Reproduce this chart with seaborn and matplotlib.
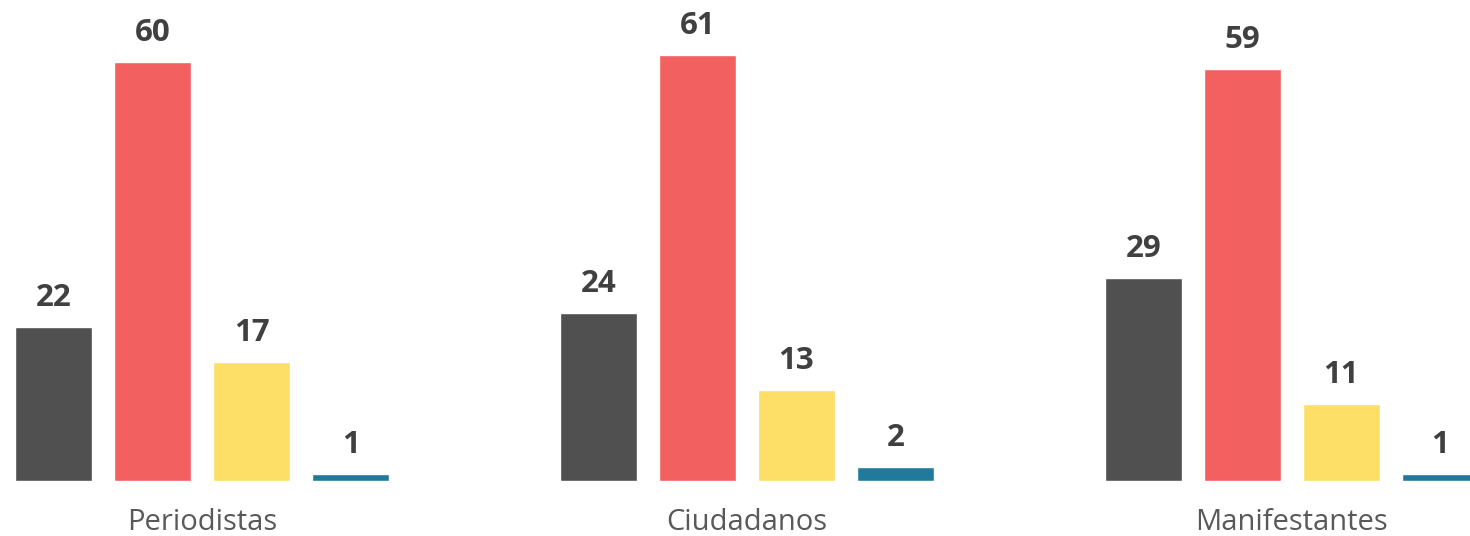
import matplotlib
matplotlib.use("Agg")
import matplotlib.pyplot as plt
import seaborn as sns
import pandas as pd

# Grouped bar values per respondent group
groups = ["Periodistas", "Ciudadanos", "Manifestantes"]
series = ["A", "B", "C", "D"]
values_a = [22, 24, 29]
values_b = [60, 61, 59]
values_c = [17, 13, 11]
values_d = [1, 2, 1]
colors = ["#505050", "#F26060", "#FDDE66", "#217A9A"]

rows = []
for s, vals in zip(series, [values_a, values_b, values_c, values_d]):
    for g, v in zip(groups, vals):
        rows.append({"grupo": g, "serie": s, "valor": v})
df = pd.DataFrame(rows)

sns.set_theme(style="white")
plt.rcParams["font.family"] = ["Open Sans", "DejaVu Sans"]

fig = plt.figure(figsize=(14.7, 5.36), dpi=100)
ax = fig.add_axes([0, 55.3 / 536, 1, 480.7 / 536])

sns.barplot(data=df, x="grupo", y="valor", hue="serie", order=groups,
            hue_order=series, palette=colors, width=0.727, gap=0.22,
            legend=False, ax=ax, saturation=1)

for container in ax.containers:
    ax.bar_label(container, fmt="%d", padding=10, fontsize=22.5,
                 fontweight="bold", color="#404040")

ax.set_xlim(-0.371, 2.327)
ax.set_ylim(0, 68.9)
ax.set_xlabel("")
ax.set_ylabel("")
ax.set_yticks([])
ax.tick_params(axis="x", length=0, pad=20, labelsize=21, labelcolor="#595959")
sns.despine(ax=ax, left=True, bottom=True)

fig.savefig("out.png", dpi=100)
